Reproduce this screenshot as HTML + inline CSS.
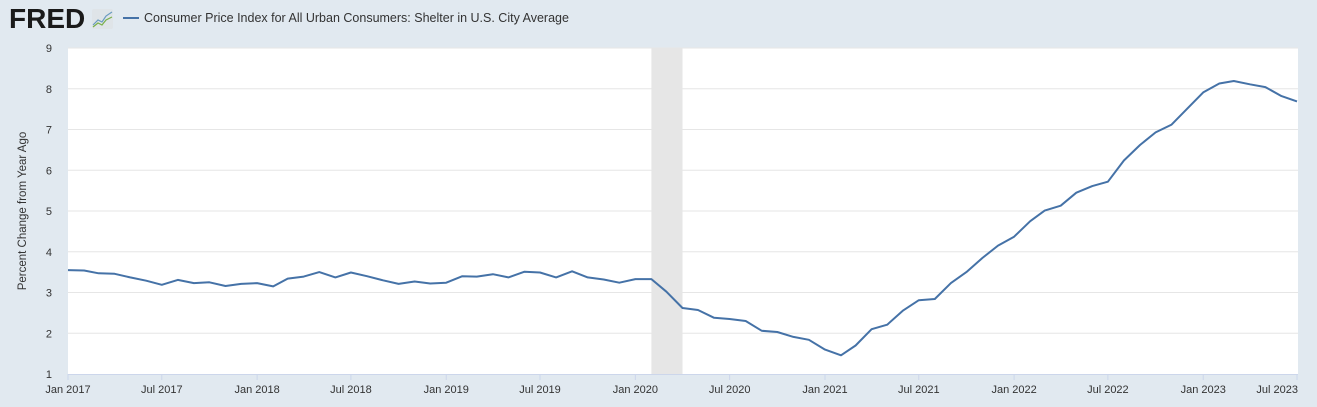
<!DOCTYPE html>
<html><head><meta charset="utf-8"><style>
html,body{margin:0;padding:0;background:#e1e9f0;width:1317px;height:407px;overflow:hidden;font-family:"Liberation Sans",sans-serif}
</style></head><body>
<svg width="1317" height="407" xmlns="http://www.w3.org/2000/svg">
<text x="9" y="28" font-size="28" font-weight="bold" fill="#1a1a1a" letter-spacing="0">FRED</text>
<g>
<rect x="92" y="9" width="21" height="20" rx="2" fill="#dfe4e8"/>
<polyline points="93,25 98,20 102,22 106,16 112,12" fill="none" stroke="#6a9bc0" stroke-width="1.2"/>
<polyline points="93,27 98,23 102,25 106,20 112,17" fill="none" stroke="#7ab04a" stroke-width="1.2"/>
</g>
<line x1="123" y1="18" x2="139" y2="18" stroke="#4572a7" stroke-width="2"/>
<text x="144" y="22" font-size="12.5" fill="#333">Consumer Price Index for All Urban Consumers: Shelter in U.S. City Average</text>
<rect x="68" y="48" width="1230" height="326" fill="#fff"/>
<g id="grid"></g>
<g id="rec"></g>
<g id="yt"></g>
<g id="xt"></g>
<path id="line" fill="none" stroke="#4572a7" stroke-width="2" stroke-linejoin="round"/>
<text transform="translate(26,211) rotate(-90)" text-anchor="middle" font-size="11.5" fill="#333">Percent Change from Year Ago</text>
</svg>
<script>
const startYear = 2017;
const values = [3.55,3.54,3.47,3.46,3.37,3.29,3.19,3.31,3.23,3.25,3.16,3.21,
3.23,3.15,3.34,3.39,3.50,3.37,3.49,3.40,3.30,3.21,3.27,3.22,
3.24,3.40,3.39,3.45,3.37,3.51,3.49,3.37,3.52,3.37,3.32,3.24,
3.33,3.33,3.02,2.62,2.57,2.38,2.35,2.30,2.06,2.03,1.91,1.84,
1.60,1.46,1.70,2.10,2.21,2.56,2.81,2.84,3.23,3.50,3.85,4.15,
4.37,4.75,5.01,5.13,5.45,5.61,5.72,6.24,6.62,6.93,7.12,7.51,
7.91,8.13,8.19,8.11,8.04,7.82,7.69];
const yTicks = [1,2,3,4,5,6,7,8,9];
const xTickLabels = ["Jan 2017","Jul 2017","Jan 2018","Jul 2018","Jan 2019","Jul 2019","Jan 2020","Jul 2020","Jan 2021","Jul 2021","Jan 2022","Jul 2022","Jan 2023","Jul 2023"];
const recession = ["2020-02-01","2020-04-01"];

const NS="http://www.w3.org/2000/svg";
const t0=Date.UTC(2017,0,1), t1=Date.UTC(2023,6,1);
const X=t=>68+(t-t0)/(t1-t0)*1229;
const Y=v=>374-(v-1)/8*326;
const mon=i=>Date.UTC(startYear+Math.floor(i/12),i%12,1);
function mk(tag,attrs,parent){const e=document.createElementNS(NS,tag);for(const k in attrs)e.setAttribute(k,attrs[k]);document.getElementById(parent).appendChild(e);return e;}
yTicks.forEach(v=>{
  if(v>1){const g=mk('line',{x1:68,x2:1298,y1:Y(v),y2:Y(v),stroke:'#e6e6e6','stroke-width':1},'grid');
  
  }
  const t=mk('text',{x:52,y:Y(v)+4,'text-anchor':'end','font-size':11,fill:'#333'},'yt');
  t.textContent=v;
  
  
});
const r=mk('rect',{x:X(Date.parse(recession[0])),y:48,width:X(Date.parse(recession[1]))-X(Date.parse(recession[0])),height:326,fill:'#e6e6e6'},'rec');


const ax=mk('line',{x1:68,x2:1298,y1:374.5,y2:374.5,stroke:'#ccd6eb'},'xt');


xTickLabels.forEach((lab,i)=>{
  const x=X(mon(i*6));
  const tk=mk('line',{x1:x,x2:x,y1:374,y2:380,stroke:'#ccd6eb'},'xt');
  
  
  const anchor = i===xTickLabels.length-1 ? 'end' : 'middle';
  const t=mk('text',{x:i===xTickLabels.length-1?x+1:x,y:393,'text-anchor':anchor,'font-size':11,fill:'#333'},'xt');
  t.textContent=lab;
  
  
});
document.getElementById('line').setAttribute('d',values.map((v,i)=>(i?'L':'M')+X(mon(i)).toFixed(1)+','+Y(v).toFixed(1)).join(''));
</script>
</body></html>
